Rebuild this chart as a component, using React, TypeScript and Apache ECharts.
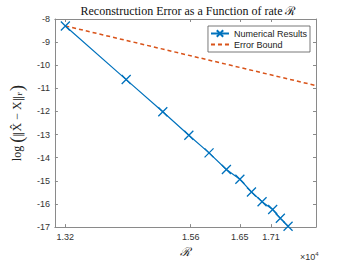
import React, { useEffect, useRef } from "react";
import * as echarts from "echarts";

const rateValues = [1.32, 1.4365, 1.5066, 1.5565, 1.5952, 1.6284, 1.6542, 1.6764, 1.6967, 1.717, 1.7317, 1.7465];
const numericalErrors = [-8.3, -10.62, -12.01, -13.03, -13.79, -14.51, -14.93, -15.48, -15.9, -16.24, -16.62, -16.96];
const boundRates = [1.32, 1.8];
const boundErrors = [-8.3, -10.88];
const xTickValues = [1.32, 1.56, 1.654, 1.714];
const xTickLabels = ["1.32", "1.56", "1.65", "1.71"];

const AXIS_COLOR = "#8a8a8a";
const LABEL_COLOR = "#333333";
const SERIF = "Liberation Serif, DejaVu Serif, serif";
const DSERIF = "DejaVu Serif, serif";

export default function App() {
  const ref = useRef<HTMLDivElement>(null);
  useEffect(() => {
    if (!ref.current) return;
    const chart = echarts.init(ref.current, undefined, { renderer: "svg" });
    const numData = rateValues.map((r, i) => [r, numericalErrors[i]]);
    const boundData = boundRates.map((r, i) => [r, boundErrors[i]]);
    const labelMap = (v: number) => {
      const idx = xTickValues.findIndex((t) => Math.abs(t - v) < 1e-6);
      return idx >= 0 ? xTickLabels[idx] : "";
    };
    const baseX = {
      type: "value" as const,
      min: 1.3,
      max: 1.8,
      axisLine: { show: true, lineStyle: { color: AXIS_COLOR, width: 1 } },
      splitLine: { show: false },
    };
    const baseY = {
      type: "value" as const,
      min: -17,
      max: -8,
      interval: 1,
      axisLine: { show: true, lineStyle: { color: AXIS_COLOR, width: 1 } },
      splitLine: { show: false },
    };
    chart.setOption({
      animation: false,
      title: {
        text: "Reconstruction Error as a Function of rate ℛ",
        left: 183,
        textAlign: "center",
        top: 0,
        textStyle: { fontFamily: SERIF, fontWeight: "normal", fontSize: 12, color: "#111" },
      },
      grid: { left: 45, right: 34, top: 19, bottom: 31 },
      legend: {
        orient: "vertical",
        right: 40,
        top: 26,
        itemWidth: 18,
        itemHeight: 8,
        itemGap: 2,
        padding: [3, 3, 3, 2],
        borderColor: "#555",
        borderWidth: 0.8,
        backgroundColor: "#fff",
        textStyle: { fontSize: 9, color: "#222", fontFamily: "Liberation Sans, Arial, sans-serif" },
        data: [
          { name: "Numerical Results" },
          { name: "Error Bound", itemStyle: { color: "transparent", borderWidth: 0 } },
        ],
      },
      xAxis: [
        {
          ...baseX,
          position: "bottom",
          name: "ℛ",
          nameLocation: "middle",
          nameGap: 2,
          nameTextStyle: { fontFamily: DSERIF, fontStyle: "italic", fontSize: 12, color: "#222" },
          axisTick: { show: true, inside: true, length: 3, customValues: xTickValues, lineStyle: { color: AXIS_COLOR } },
          axisLabel: {
            customValues: xTickValues,
            formatter: (v: number) => labelMap(v),
            fontSize: 9,
            color: LABEL_COLOR,
            margin: 5,
            fontFamily: "Liberation Sans, Arial, sans-serif",
          },
        },
        {
          ...baseX,
          position: "top",
          axisTick: { show: true, inside: true, length: 3, customValues: xTickValues, lineStyle: { color: AXIS_COLOR } },
          axisLabel: { show: false },
        },
      ],
      yAxis: [
        {
          ...baseY,
          position: "left",
          name: "{n|log }{p|(}{d|‖}{n|X̂ − X}{d|‖}{s|F}{p|)}",
          nameLocation: "middle",
          nameGap: 21,
          nameTextStyle: {
            rich: {
              n: { fontFamily: SERIF, fontSize: 12, color: "#222" },
              d: { fontFamily: DSERIF, fontSize: 11, color: "#222" },
              p: { fontFamily: SERIF, fontSize: 18, color: "#222" },
              s: { fontFamily: SERIF, fontSize: 7, color: "#222", padding: [6, 1, 0, 0] },
            },
          },
          axisTick: { show: true, inside: true, length: 3, lineStyle: { color: AXIS_COLOR } },
          axisLabel: { fontSize: 9, color: LABEL_COLOR, margin: 5, fontFamily: "Liberation Sans, Arial, sans-serif" },
        },
        {
          ...baseY,
          position: "right",
          axisTick: { show: true, inside: true, length: 3, lineStyle: { color: AXIS_COLOR } },
          axisLabel: { show: false },
        },
      ],
      graphic: [
        {
          type: "text",
          left: 300,
          top: 251,
          style: {
            text: "×10{s|4}",
            rich: { s: { fontSize: 6, padding: [0, 0, 6, 0] } },
            fontSize: 9,
            fill: LABEL_COLOR,
            fontFamily: "Liberation Sans, Arial, sans-serif",
          },
        },
      ],
      series: [
        {
          name: "Error Bound",
          type: "line",
          data: boundData,
          symbol: "none",
          z: 2,
          lineStyle: { color: "#D95319", width: 1.5, type: [4, 3] },
          itemStyle: { color: "#D95319" },
        },
        {
          name: "Numerical Results",
          type: "line",
          data: numData,
          z: 3,
          symbol: "path://M0,0L10,10M10,0L0,10",
          symbolSize: 9,
          showAllSymbol: true,
          lineStyle: { color: "#0072BD", width: 1.2 },
          itemStyle: { color: "#0072BD", borderColor: "#0072BD", borderWidth: 1.3 },
        },
      ],
    });
    return () => chart.dispose();
  }, []);
  return <div ref={ref} style={{ width: 350, height: 263, position: "absolute", left: 0, top: 0 }} />;
}
